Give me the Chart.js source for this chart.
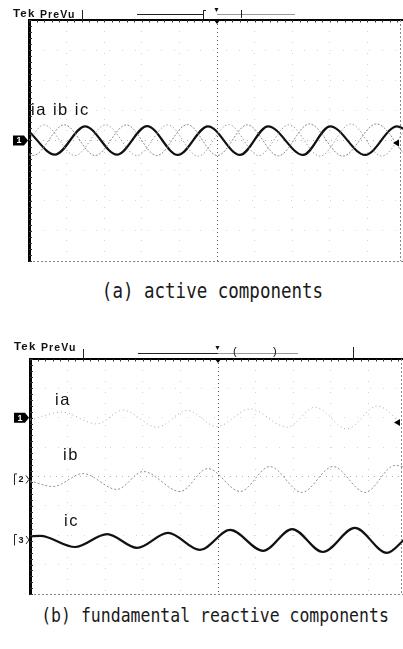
<!DOCTYPE html>
<html>
<head>
<meta charset="utf-8">
<script src="https://cdn.jsdelivr.net/npm/chart.js@4/dist/chart.umd.min.js"></script>
<style>
  html, body { margin: 0; padding: 0; background: #fff; overflow: hidden; }
  body { width: 403px; height: 649px; position: relative; font-family: "Liberation Sans", Arial, sans-serif; color: #111; }
  canvas { position: absolute; left: 0; }
  .t { position: absolute; white-space: nowrap; line-height: 1; }
  .tek { font-weight: bold; font-size: 11.5px; letter-spacing: 1.2px; }
  .prevu { font-weight: bold; font-size: 10.5px; letter-spacing: 1.1px; }
  .lbl { font-size: 16.5px; letter-spacing: 1.5px; }
  .cap { font-family: "DejaVu Sans Mono", "Liberation Mono", monospace; transform: scale(1, 1.2); transform-origin: 50% 70%; color: #1a1a1a; }
  .ln { position: absolute; height: 0; border-top: 1px solid #222; }
  .vl { position: absolute; width: 0; border-left: 1px solid #222; }
</style>
</head>
<body>
<canvas id="scopeA" width="410" height="268" style="top:0"></canvas>
<canvas id="scopeB" width="410" height="270" style="top:330px"></canvas>

<!-- scope header (a) -->
<div class="t tek" style="left:13px;top:8px">Tek</div>
<div class="t prevu" style="left:40px;top:9px">PreVu</div>
<div class="vl" style="left:82px;top:10px;height:10px"></div>
<div class="ln" style="left:137px;top:14px;width:66px"></div>
<div class="vl" style="left:203px;top:10px;height:9px"></div>
<div class="ln" style="left:203px;top:10px;width:3px"></div>
<div class="ln" style="left:217px;top:14px;width:78px;border-color:#999"></div>
<div class="vl" style="left:241px;top:10px;height:8px"></div>
<div class="t" style="left:213px;top:6px;font-size:7px">▼</div>

<!-- scope header (b) -->
<div class="t tek" style="left:14px;top:341px">Tek</div>
<div class="t prevu" style="left:41px;top:342px">PreVu</div>
<div class="vl" style="left:83px;top:349px;height:11px"></div>
<div class="ln" style="left:138px;top:353px;width:80px"></div>
<div class="ln" style="left:218px;top:353px;width:80px;border-color:#999"></div>
<div class="t" style="left:233px;top:346px;font-size:11px">(</div>
<div class="t" style="left:273px;top:346px;font-size:11px">)</div>
<div class="vl" style="left:353px;top:347px;height:11px"></div>
<div class="t" style="left:214px;top:344px;font-size:7px">▼</div>

<!-- trace labels -->
<div class="t lbl" style="left:31px;top:101px">ia ib ic</div>
<div class="t lbl" style="left:55px;top:391px">ia</div>
<div class="t lbl" style="left:63px;top:446px">ib</div>
<div class="t lbl" style="left:64px;top:512px">ic</div>

<!-- captions -->
<div class="t cap" style="left:0;width:425px;text-align:center;top:284px;font-size:17.5px">(a) active components</div>
<div class="t cap" style="left:0;width:430px;text-align:center;top:609px;font-size:16.5px">(b) fundamental reactive components</div>

<script>
// time in ms (10 ms/div), amplitude in screen divisions
const xMin = 0, xMax = 100, xStep = 10;
const yMin = -4, yMax = 4, yStep = 1;

// (a) active components
const aIaT = [0, 1.1, 9.4, 17.6, 25.9, 34.0, 42.1, 50.1, 58.1, 66.3, 74.6, 83.5, 92.4, 100];
const aIaV = [-0.47, -0.5, 0.52, -0.5, 0.52, -0.5, 0.53, -0.5, 0.52, -0.51, 0.55, -0.52, 0.55, -0.48];
const aIbT = [0, 4.0, 12.2, 20.4, 28.7, 36.9, 45.0, 53.1, 61.1, 69.1, 77.4, 85.6, 93.8, 100];
const aIbV = [0.02, 0.52, -0.5, 0.52, -0.5, 0.52, -0.52, 0.53, -0.5, 0.52, -0.52, 0.55, -0.52, 0.34];
const aIcT = [0, 6.9, 14.9, 23.4, 31.4, 39.6, 47.6, 56.1, 63.6, 72.9, 80.1, 89.4, 97.9, 100];
const aIcV = [0.3, -0.47, 0.47, -0.47, 0.48, -0.48, 0.47, -0.48, 0.47, -0.48, 0.47, -0.48, 0.47, 0.36];

// (b) fundamental reactive components (values relative to each trace's ground level)
const bIaBase = 2.0, bIbBase = -0.1, bIcBase = -2.16;
const bIaT = [0, 8.5, 17.8, 24.7, 33.8, 41.8, 49.7, 58.5, 68.4, 75.8, 84.3, 92.3, 100];
const bIaV = [-0.08, 0.19, -0.21, 0.26, -0.32, 0.25, -0.3, 0.3, -0.32, 0.36, -0.38, 0.4, -0.36];
const bIbT = [0, 6.1, 14.1, 23.1, 30.1, 39.9, 47.3, 55.9, 63.8, 72.3, 80.6, 89.1, 97.1, 100];
const bIbV = [-0.05, -0.24, 0.2, -0.34, 0.27, -0.41, 0.37, -0.41, 0.44, -0.44, 0.44, -0.44, 0.48, 0.4];
const bIcT = [0, 2.7, 12.0, 20.5, 28.5, 36.7, 45.2, 53.2, 62.0, 69.7, 77.9, 86.4, 94.9, 100];
const bIcV = [0.12, 0.14, -0.24, 0.2, -0.27, 0.24, -0.34, 0.34, -0.37, 0.37, -0.41, 0.41, -0.44, 0.07];

function pts(ts, vs, base) {
  return ts.map((t, i) => ({ x: t, y: vs[i] + (base || 0) }));
}

function trace(label, data, color, width, dash) {
  return {
    label: label, data: data,
    borderColor: color, borderWidth: width, borderDash: dash || [],
    pointRadius: 0, fill: false, cubicInterpolationMode: 'monotone'
  };
}

// oscilloscope frame, border ticks, channel & trigger markers
const scopeFrame = {
  id: 'scopeFrame',
  afterDraw(chart, args, opts) {
    const { ctx, chartArea: a, scales: { x, y } } = chart;
    ctx.save();
    // top border
    ctx.strokeStyle = '#000';
    ctx.lineWidth = 2;
    ctx.beginPath(); ctx.moveTo(a.left, a.top); ctx.lineTo(a.right, a.top); ctx.stroke();
    // right and bottom borders, dotted
    ctx.strokeStyle = '#888';
    ctx.lineWidth = 1;
    ctx.setLineDash([2, 2]);
    ctx.beginPath();
    ctx.moveTo(a.right - 4.5, a.top); ctx.lineTo(a.right - 4.5, a.bottom);
    ctx.moveTo(a.left, a.bottom + 0.5); ctx.lineTo(a.right, a.bottom + 0.5);
    ctx.stroke();
    ctx.setLineDash([]);
    // minor ticks on left and top border
    ctx.strokeStyle = '#333';
    ctx.beginPath();
    for (let v = yMin; v <= yMax + 1e-6; v += 0.2) {
      const py = Math.round(y.getPixelForValue(v)) + 0.5;
      ctx.moveTo(a.left, py); ctx.lineTo(a.left + 3, py);
    }
    for (let t = xMin; t <= xMax + 1e-6; t += 2) {
      const px = Math.round(x.getPixelForValue(t)) + 0.5;
      ctx.moveTo(px, a.top); ctx.lineTo(px, a.top + 2.5);
    }
    ctx.stroke();
    // trigger position marker under top border
    const cx = x.getPixelForValue((xMin + xMax) / 2);
    ctx.fillStyle = '#000';
    ctx.beginPath(); ctx.moveTo(cx - 3, a.top); ctx.lineTo(cx + 3, a.top); ctx.lineTo(cx, a.top + 4); ctx.fill();
    // channel ground markers
    ctx.font = 'bold 9px "Liberation Sans", Arial, sans-serif';
    ctx.textAlign = 'center';
    ctx.textBaseline = 'middle';
    (opts.markers || []).forEach(m => {
      const py = y.getPixelForValue(m.value);
      if (m.solid) {
        ctx.fillStyle = '#000';
        ctx.fillRect(a.left - 16, py - 5, 11, 10);
        ctx.beginPath(); ctx.moveTo(a.left - 5, py - 5); ctx.lineTo(a.left - 1, py); ctx.lineTo(a.left - 5, py + 5); ctx.fill();
        ctx.fillStyle = '#fff';
        ctx.fillText(m.text, a.left - 10, py + 0.5);
      } else {
        ctx.strokeStyle = '#222';
        ctx.lineWidth = 1;
        ctx.beginPath();
        ctx.moveTo(a.left - 13, py - 5.5); ctx.lineTo(a.left - 15.5, py - 5.5); ctx.lineTo(a.left - 15.5, py + 5.5);
        ctx.moveTo(a.left - 4, py - 4); ctx.lineTo(a.left - 1, py); ctx.lineTo(a.left - 4, py + 4);
        ctx.stroke();
        ctx.fillStyle = '#111';
        ctx.fillText(m.text, a.left - 9, py + 0.5);
      }
    });
    // trigger level arrow on the right
    if (opts.trigger !== undefined) {
      const py = y.getPixelForValue(opts.trigger);
      const rx = a.right - 6;
      ctx.fillStyle = '#000';
      ctx.beginPath(); ctx.moveTo(rx - 6, py); ctx.lineTo(rx, py - 3.5); ctx.lineTo(rx, py + 3.5); ctx.fill();
    }
    ctx.restore();
  }
};

function scopeOptions(padding, markers, trigger) {
  const xMid = (xMin + xMax) / 2;
  return {
    responsive: false,
    animation: false,
    events: [],
    layout: { padding: padding, autoPadding: false },
    plugins: {
      legend: { display: false },
      tooltip: { enabled: false },
      scopeFrame: { markers: markers, trigger: trigger }
    },
    scales: {
      x: {
        type: 'linear', min: xMin, max: xMax,
        ticks: { display: false, stepSize: xStep },
        grid: {
          drawTicks: false,
          color: c => c.tick.value === xMid ? '#555' : 'rgba(0,0,0,0.18)'
        },
        border: { display: false, dash: c => c.tick && c.tick.value === xMid ? [1, 3] : [1, 10] }
      },
      y: {
        type: 'linear', min: yMin, max: yMax,
        ticks: { display: false, stepSize: yStep },
        grid: {
          drawTicks: false,
          color: c => c.tick.value === 0 ? 'rgba(0,0,0,0.30)' : 'rgba(0,0,0,0.15)'
        },
        border: { display: true, color: '#000', width: 3, dash: c => c.tick && c.tick.value === 0 ? [1, 5] : [1, 12] }
      }
    }
  };
}

new Chart(document.getElementById('scopeA'), {
  type: 'line',
  data: {
    datasets: [
      trace('ia', pts(aIaT, aIaV), '#8c8c8c', 1, [2, 1.5]),
      trace('ib', pts(aIbT, aIbV), '#a0a0a0', 1, [1.5, 2]),
      trace('ic', pts(aIcT, aIcV), '#111', 2.2)
    ]
  },
  options: scopeOptions({ left: 29, top: 20, right: 5, bottom: 7 }, [{ value: 0, text: '1', solid: true }], -0.08),
  plugins: [scopeFrame]
});

new Chart(document.getElementById('scopeB'), {
  type: 'line',
  data: {
    datasets: [
      trace('ia', pts(bIaT, bIaV, bIaBase), '#a8a8a8', 1, [1, 3]),
      trace('ib', pts(bIbT, bIbV, bIbBase), '#8f8f8f', 1, [2, 2]),
      trace('ic', pts(bIcT, bIcV, bIcBase), '#111', 2.2)
    ]
  },
  options: scopeOptions({ left: 30, top: 29, right: 4, bottom: 6 },
    [{ value: bIaBase, text: '1', solid: true }, { value: bIbBase, text: '2' }, { value: bIcBase, text: '3' }], 1.84),
  plugins: [scopeFrame]
});
</script>
</body>
</html>
